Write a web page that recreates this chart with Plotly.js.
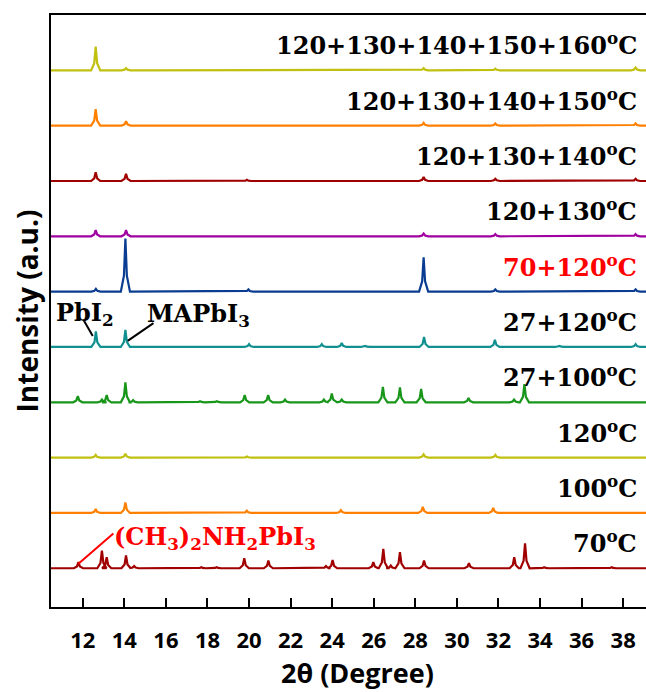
<!DOCTYPE html>
<html>
<head>
<meta charset="utf-8">
<script src="https://cdn.plot.ly/plotly-3.0.1.min.js"></script>
<style>html,body{margin:0;padding:0;background:#fff;overflow:hidden}#chart{width:646px;height:692px}</style>
</head>
<body>
<div id="chart"></div>
<script>
// Series names (bottom to top) and their vertical offsets (a.u.)
const seriesNames = ["70<sup>o</sup>C", "100<sup>o</sup>C", "120<sup>o</sup>C", "27+100<sup>o</sup>C", "27+120<sup>o</sup>C",
  "70+120<sup>o</sup>C", "120+130<sup>o</sup>C", "120+130+140<sup>o</sup>C", "120+130+140+150<sup>o</sup>C", "120+130+140+150+160<sup>o</sup>C"];
const offsets = [0.7, 1.7, 2.7, 3.7, 4.7, 5.7, 6.7, 7.7, 8.7, 9.7];

// Peaks: [2theta, relative intensity]
const peaks70 = [[11.79,0.11],[12.92,0.32],[13.15,0.20],[14.08,0.23],[14.47,0.04],[17.7,0.02],[18.44,0.02],[19.77,0.18],[20.93,0.14],[23.7,0.04],[24.02,0.15],[25.98,0.11],[26.46,0.35],[26.82,0.05],[27.26,0.29],[28.42,0.14],[30.58,0.09],[32.76,0.20],[33.28,0.45],[34.2,0.02],[37.45,0.02]];
const peaks100 = [[12.62,0.07],[14.05,0.19],[19.89,0.04],[24.42,0.05],[28.36,0.11],[31.75,0.09]];
const peaks120 = [[12.62,0.05],[14.05,0.07],[19.9,0.02],[28.4,0.06],[31.85,0.05]];
const peaks27_100 = [[11.76,0.11],[12.92,0.05],[13.15,0.13],[14.05,0.36],[14.42,0.04],[17.64,0.02],[18.45,0.02],[19.79,0.13],[20.92,0.13],[21.73,0.05],[23.6,0.05],[23.98,0.16],[24.46,0.05],[26.44,0.28],[27.26,0.27],[28.28,0.24],[30.56,0.08],[32.75,0.05],[33.25,0.33]];
const peaks27_120 = [[12.63,0.28],[14.05,0.31],[20.0,0.05],[23.5,0.05],[24.46,0.07],[25.6,0.02],[28.42,0.18],[31.83,0.13],[34.95,0.02],[38.6,0.05]];
const peaks70_120 = [[12.63,0.05],[14.05,0.96],[19.97,0.04],[28.4,0.62],[31.85,0.04],[38.6,0.04]];
const peaks130 = [[12.62,0.11],[14.08,0.11],[28.4,0.05],[31.85,0.04],[38.6,0.04]];
const peaks140 = [[12.62,0.16],[14.08,0.13],[19.9,0.02],[28.4,0.07],[31.85,0.04],[38.6,0.04]];
const peaks150 = [[12.62,0.30],[14.08,0.08],[28.4,0.05],[31.85,0.04],[38.6,0.04]];
const peaks160 = [[12.62,0.43],[14.08,0.04],[28.4,0.04],[31.85,0.03],[38.6,0.05]];
const allPeaks = [peaks70, peaks100, peaks120, peaks27_100, peaks27_120, peaks70_120, peaks130, peaks140, peaks150, peaks160];

const colors = ["#a00000", "#ff8000", "#c0c010", "#18961a", "#109090", "#0a3d91", "#a000a0", "#a00000", "#ff8000", "#c0c010"];
const labelColors = ["#000", "#000", "#000", "#000", "#000", "#ff0000", "#000", "#000", "#000", "#000"];

const xMin = 10.47, xMax = 39.1;
const tickVals = [12,14,16,18,20,22,24,26,28,30,32,34,36,38];
const xTitle = '2θ (Degree)';
const yTitle = 'Intensity (a.u.)';

function buildLine(peaks, base) {
  const xs = [xMin], ys = [base];
  const w = 0.22, w2 = 0.07;
  peaks.slice().sort((a,b)=>a[0]-b[0]).forEach(([p,h]) => {
    xs.push(p - w, p - w2, p, p + w2, p + w);
    ys.push(base, base + 0.3*h, base + h, base + 0.3*h, base);
  });
  xs.push(xMax); ys.push(base);
  return {x: xs, y: ys};
}

const traces = allPeaks.map((pk, i) => {
  const d = buildLine(pk, offsets[i]);
  return {x: d.x, y: d.y, type: 'scatter', mode: 'lines', line: {color: colors[i], width: 2.2}, hoverinfo: 'skip', showlegend: false};
});

const serif = {family: 'DejaVu Serif', size: 24, weight: 700, color: '#000'};
const annotations = seriesNames.map((t, i) => ({
  x: 38.74, y: offsets[i] + 0.47, xref: 'x', yref: 'y', xanchor: 'right', yanchor: 'middle',
  text: t, showarrow: false, font: Object.assign({}, serif, {color: labelColors[i]})
}));
annotations.push({x: 10.6, y: 5.30, xref:'x', yref:'y', xanchor:'left', yanchor:'middle', text:'PbI<sub>2</sub>', showarrow:false, font: serif});
annotations.push({x: 15.0, y: 5.28, xref:'x', yref:'y', xanchor:'left', yanchor:'middle', text:'MAPbI<sub>3</sub>', showarrow:false, font: serif});
annotations.push({x: 13.4, y: 1.25, xref:'x', yref:'y', xanchor:'left', yanchor:'middle', text:'(CH<sub>3</sub>)<sub>2</sub>NH<sub>2</sub>PbI<sub>3</sub>', showarrow:false, font: Object.assign({}, serif, {color:'#ff0000'})});
// x-axis title placed as an annotation for exact positioning
annotations.push({x: 25.22, y: -0.111, xref:'x', yref:'paper', xanchor:'center', yanchor:'middle', text: xTitle, showarrow:false,
  font: {family: 'Open Sans', size: 27, weight: 700, color: '#000'}});

const shapes = [
  {type:'line', xref:'x', yref:'y', x0:12.03, y0:5.19, x1:12.48, y1:4.90, line:{color:'#000', width:2}},
  {type:'line', xref:'x', yref:'y', x0:15.40, y0:5.13, x1:14.16, y1:4.81, line:{color:'#000', width:2}},
  {type:'line', xref:'x', yref:'y', x0:13.47, y0:1.33, x1:11.79, y1:0.78, line:{color:'#ff0000', width:2}}
];

const layout = {
  width: 646, height: 692,
  margin: {l: 51, r: 0, t: 15, b: 85},
  paper_bgcolor: '#fff', plot_bgcolor: '#fff',
  xaxis: {
    range: [xMin, xMax], tickvals: tickVals, ticktext: tickVals.map(String),
    ticks: 'inside', ticklen: 9, tickwidth: 2, tickcolor: '#000',
    showline: true, linewidth: 2, linecolor: '#000', mirror: true,
    showgrid: false, zeroline: false,
    tickfont: {family: 'Open Sans', size: 22, weight: 700, color: '#000'},
    ticklabelstandoff: 13
  },
  yaxis: {
    range: [0, 10.7], showticklabels: false, ticks: '',
    showline: true, linewidth: 2, linecolor: '#000',
    showgrid: false, zeroline: false,
    title: {text: yTitle, font: {family: 'Open Sans', size: 28, weight: 700, color: '#000'}, standoff: 2}
  },
  annotations: annotations,
  shapes: shapes
};

Plotly.newPlot('chart', traces, layout, {displayModeBar: false, staticPlot: true});
</script>
</body>
</html>
